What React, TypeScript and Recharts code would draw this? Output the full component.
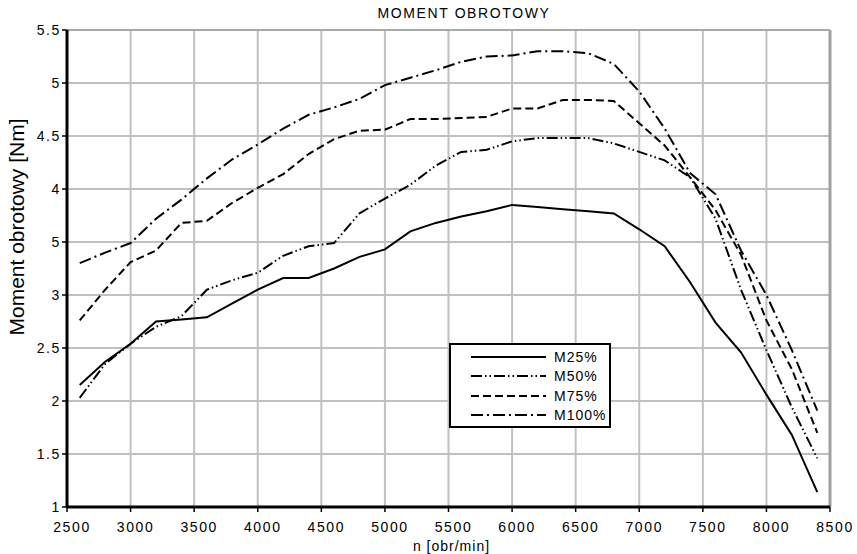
import React from 'react'
import { CartesianGrid, Legend, Line, LineChart, ReferenceLine, XAxis, YAxis } from 'recharts'

// engine speed [obr/min]
const rpm = [
  2600, 2800, 3000, 3200, 3400, 3600, 3800, 4000, 4200, 4400, 4600, 4800, 5000, 5200, 5400,
  5600, 5800, 6000, 6200, 6400, 6600, 6800, 7000, 7200, 7400, 7600, 7800, 8000, 8200, 8400,
]

// torque [Nm] at 25/50/75/100% load
const m25 = [
  2.15, 2.37, 2.54, 2.75, 2.77, 2.79, 2.92, 3.05, 3.16, 3.16, 3.25, 3.36, 3.43, 3.6, 3.68,
  3.74, 3.79, 3.85, 3.83, 3.81, 3.79, 3.77, 3.62, 3.46, 3.12, 2.74, 2.46, 2.06, 1.68, 1.14,
]
const m50 = [
  2.03, 2.35, 2.54, 2.7, 2.8, 3.05, 3.14, 3.21, 3.37, 3.46, 3.49, 3.77, 3.91, 4.04, 4.22,
  4.35, 4.37, 4.45, 4.48, 4.48, 4.48, 4.43, 4.35, 4.27, 4.11, 3.72, 3.05, 2.48, 1.94, 1.46,
]
const m75 = [
  2.76, 3.05, 3.31, 3.42, 3.68, 3.7, 3.87, 4.01, 4.14, 4.33, 4.47, 4.55, 4.56, 4.66, 4.66,
  4.67, 4.68, 4.76, 4.76, 4.84, 4.84, 4.83, 4.62, 4.41, 4.11, 3.8, 3.38, 2.76, 2.3, 1.7,
]
const m100 = [
  3.3, 3.4, 3.49, 3.72, 3.9, 4.1, 4.28, 4.42, 4.57, 4.7, 4.77, 4.85, 4.98, 5.05, 5.12,
  5.2, 5.25, 5.26, 5.3, 5.3, 5.28, 5.18, 4.92, 4.57, 4.15, 3.95, 3.42, 3.0, 2.48, 1.91,
]

const xTicks = [2500, 3000, 3500, 4000, 4500, 5000, 5500, 6000, 6500, 7000, 7500, 8000, 8500]
const yTicks = [1, 1.5, 2, 2.5, 3, 3.5, 4, 4.5, 5, 5.5]
// labels as printed on the original (3.5 is shown as "5")
const yTickLabels = ['1', '1.5', '2', '2.5', '3', '5', '4', '4.5', '5', '5.5']

const seriesNames = ['M25%', 'M50%', 'M75%', 'M100%']
const seriesKeys = ['m25', 'm50', 'm75', 'm100']
const seriesDash = ['', '11 3 1.5 3 1.5 3', '8 4', '12 4 2 4']

const data = rpm.map((n, i) => ({ n, m25: m25[i], m50: m50[i], m75: m75[i], m100: m100[i] }))

const FONT = '"Liberation Sans", Arial, sans-serif'

const renderLegend = () => (
  <div
    style={{
      width: 162,
      height: 85,
      border: '2px solid #000',
      background: '#fff',
      boxSizing: 'border-box',
      paddingTop: 2,
      fontFamily: FONT,
      fontSize: 14,
      letterSpacing: 1,
      color: '#000',
    }}
  >
    {seriesNames.map((name, i) => (
      <div key={name} style={{ display: 'flex', alignItems: 'center', height: 19.5 }}>
        <svg width={96} height={10} style={{ display: 'block' }}>
          <line x1={20} x2={95} y1={5} y2={5} stroke="#000" strokeWidth={2} strokeDasharray={seriesDash[i]} />
        </svg>
        <span style={{ marginLeft: 7, lineHeight: '14px' }}>{name}</span>
      </div>
    ))}
  </div>
)

export default function App() {
  const tickStyle = { fontFamily: FONT, fontSize: 14, fill: '#000', letterSpacing: 1.6 }
  return (
    <div style={{ position: 'absolute', left: 0, top: 0, width: 857, height: 554, background: '#fff' }}>
      <LineChart width={857} height={554} data={data} margin={{ top: 30, right: 27, bottom: 0, left: 0 }}>
        <CartesianGrid stroke="#c0c0c0" strokeWidth={2} />
        <XAxis
          dataKey="n"
          type="number"
          domain={[2500, 8500]}
          ticks={xTicks}
          height={47}
          tickSize={5}
          tickMargin={10}
          tick={{ ...tickStyle, dx: 5 }}
          axisLine={{ stroke: '#000', strokeWidth: 3 }}
          tickLine={{ stroke: '#000', strokeWidth: 1.5 }}
          label={{ value: 'n [obr/min]', position: 'insideBottom', offset: 3, dx: 3, style: { fontFamily: FONT, fontSize: 14, fill: '#000', letterSpacing: 1 } }}
        />
        <YAxis
          type="number"
          domain={[1, 5.5]}
          ticks={yTicks}
          width={67}
          tickSize={5}
          tickMargin={1}
          tick={tickStyle}
          tickFormatter={(v: number) => yTickLabels[yTicks.indexOf(v)] ?? String(v)}
          axisLine={{ stroke: '#000', strokeWidth: 3 }}
          tickLine={{ stroke: '#000', strokeWidth: 1.5 }}
        />
        <ReferenceLine x={8500} stroke="#a0a0a0" strokeWidth={3} />
        <ReferenceLine y={5.5} stroke="#a8a8a8" strokeWidth={2} />
        <Legend
          layout="vertical"
          align="center"
          verticalAlign="middle"
          content={renderLegend}
          wrapperStyle={{ left: 449, top: 343, width: 162, height: 85 }}
        />
        {seriesKeys.map((key, i) => (
          <Line
            key={key}
            dataKey={key}
            name={seriesNames[i]}
            type="linear"
            stroke="#000"
            strokeWidth={2}
            strokeDasharray={seriesDash[i] || undefined}
            dot={false}
            activeDot={false}
            isAnimationActive={false}
          />
        ))}
      </LineChart>
      <svg
        width={857}
        height={554}
        style={{ position: 'absolute', left: 0, top: 0, pointerEvents: 'none' }}
      >
        <text x={464} y={18} textAnchor="middle" fontFamily={FONT} fontSize={14} letterSpacing={1.6} fill="#000">
          MOMENT OBROTOWY
        </text>
        <text
          x={24}
          y={227}
          transform="rotate(-90 24 227)"
          textAnchor="middle"
          fontFamily={FONT}
          fontSize={21}
          fill="#000"
        >
          Moment obrotowy [Nm]
        </text>
      </svg>
    </div>
  )
}
